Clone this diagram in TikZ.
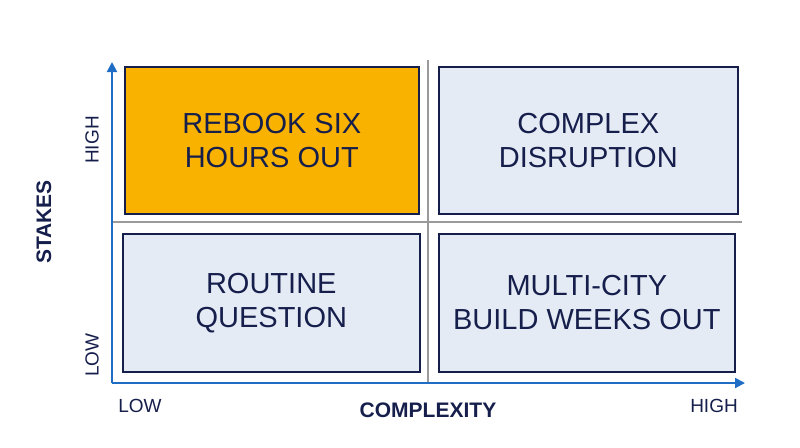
\documentclass[tikz,border=0pt]{standalone}
\usepackage{fontspec}
\setmainfont{Liberation Sans}
\usetikzlibrary{arrows.meta,positioning}
\definecolor{navy}{HTML}{161F4C}
\definecolor{axisblue}{HTML}{1F6CC4}
\definecolor{amber}{HTML}{F9B200}
\definecolor{paleblue}{HTML}{E5EBF5}
\definecolor{divgray}{HTML}{9A9A9A}
\begin{document}
\begin{tikzpicture}[x=1pt,y=-1pt,
font=\fontsize{29}{34}\selectfont,
>={Triangle[length=10pt,width=10pt]}]

\tikzstyle{quad}=[rectangle, draw=navy, line width=1.6pt, fill=paleblue,
text=navy, align=center, anchor=north west]
\tikzstyle{ticklbl}=[text=navy, font=\fontsize{19}{22}\selectfont]
\tikzstyle{axislbl}=[text=navy, font=\fontsize{21}{24}\selectfont\bfseries]

\useasboundingbox (0,0) rectangle (800,447);

%dividers
\coordinate (vtop) at (428,60);
\coordinate (vbot) at (428,383);
\coordinate (hl) at (112,222);
\coordinate (hr) at (742,222);
\draw[divgray, line width=1.5pt] (vtop) -- (vbot);
\draw[divgray, line width=1.5pt] (hl) -- (hr);

%quadrants
\node[quad, fill=amber, minimum width=294pt, minimum height=147pt]
(q1) at (124,66) {REBOOK SIX\\HOURS OUT};
\node[quad, minimum width=299pt, minimum height=147pt]
(q2) at (438,66) {COMPLEX\\DISRUPTION};
\node[quad, minimum width=297pt, minimum height=138pt]
(q3) at (122,233) {ROUTINE\\QUESTION};
\node[quad, minimum width=296pt, minimum height=138pt]
(q4) at (438,233) {MULTI-CITY\\BUILD WEEKS OUT};

%axes
\coordinate (origin) at (112,383);
\coordinate (ytip) at (112,62);
\coordinate (xtip) at (745,383);
\draw[->, axisblue, line width=2pt] (origin) -- (ytip);
\draw[->, axisblue, line width=2pt] (origin) -- (xtip);

%labels
\node[ticklbl, rotate=90] (yhigh) at (92,140) {HIGH};
\node[ticklbl, rotate=90] (ylow) at (92,355) {LOW};
\node[ticklbl] (xlow) at (140,406) {LOW};
\node[ticklbl] (xhigh) at (714,406) {HIGH};
\node[axislbl, rotate=90] (ylbl) at (44,222) {STAKES};
\node[axislbl] (xlbl) at (428,410) {COMPLEXITY};

\end{tikzpicture}
\end{document}
